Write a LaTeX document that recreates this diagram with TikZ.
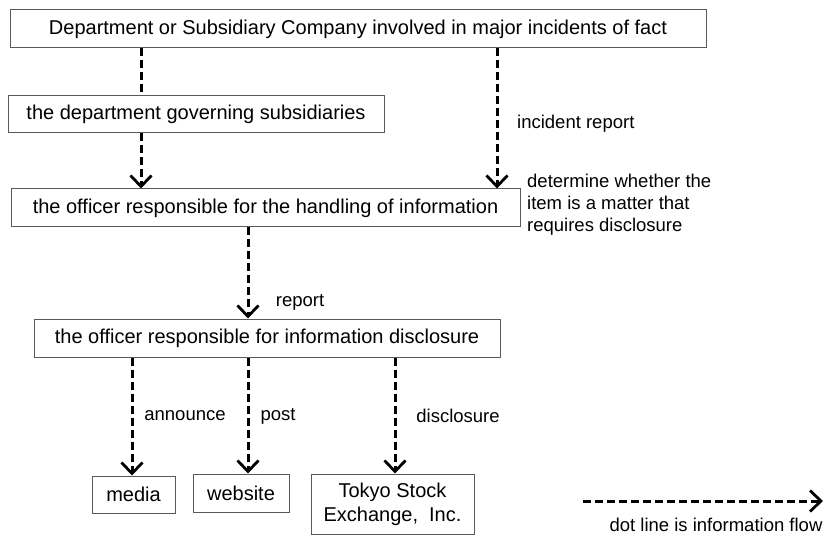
\documentclass[tikz,border=0pt]{standalone}
\usepackage{fontspec}
\setmainfont{Liberation Sans}
\usetikzlibrary{arrows.meta}
\begin{document}
\begin{tikzpicture}[x=1pt,y=-1pt,
  box/.style={draw=black!65,line width=1pt,inner sep=0pt,font=\fontsize{20}{24}\selectfont,align=center},
  lbl/.style={inner sep=0pt,font=\fontsize{18.5}{22}\selectfont},
  flow/.style={line width=3pt,dash pattern=on 8pt off 4pt,black},
  flowar/.style={flow,-{Straight Barb[length=11pt,width=21pt,line width=2.8pt]}}]
\useasboundingbox (0,0) rectangle (827,537);
\node[box,minimum width=696pt,minimum height=38pt] (top) at (358,29) {Department or Subsidiary Company involved in major incidents of fact};
\node[box,minimum width=376pt,minimum height=37pt] (gov) at (196,114.5) {the department governing subsidiaries};
\node[box,minimum width=509pt,minimum height=38pt] (hand) at (265.5,208) {the officer responsible for the handling of information};
\node[box,minimum width=466pt,minimum height=38pt] (disc) at (267,338) {the officer responsible for information disclosure};
\node[box,minimum width=83pt,minimum height=37pt] (media) at (133.5,494.5) {media};
\node[box,minimum width=96pt,minimum height=38pt] (web) at (241,493) {website};
\node[box,minimum width=163pt,minimum height=60pt] (tse) at (392.5,504) {Tokyo Stock\\Exchange,\ \ Inc.};
\coordinate (xa) at (141,0);
\coordinate (xb) at (497,0);
\coordinate (xc) at (248,0);
\coordinate (xm) at (132,0);
\coordinate (xw) at (248,0);
\coordinate (xt) at (395,0);
\draw[flow] (top.south -| xa) -- (gov.north -| xa);
\draw[flowar] (gov.south -| xa) -- (hand.north -| xa);
\draw[flowar] (top.south -| xb) -- (hand.north -| xb);
\draw[flowar] (hand.south -| xc) -- (disc.north -| xc);
\draw[flowar] (disc.south -| xm) -- (media.north -| xm);
\draw[flowar] (disc.south -| xw) -- (web.north -| xw);
\draw[flowar] (disc.south -| xt) -- (tse.north -| xt);
\node[lbl,anchor=west] (lir) at (517,124) {incident report};
\node[lbl,anchor=north west,align=left] (ldet) at (527,174) {determine whether the\\item is a matter that\\requires disclosure};
\node[lbl] (lrep) at (300,302) {report};
\node[lbl] (lann) at (185,416) {announce};
\node[lbl] (lpost) at (278,416) {post};
\node[lbl] (ldis) at (458,416) {disclosure};
\coordinate (lg1) at (583,501);
\coordinate (lg2) at (823,501);
\draw[flowar] (lg1) -- (lg2);
\node[lbl] (lleg) at (716,525) {dot line is information flow};
\end{tikzpicture}
\end{document}
